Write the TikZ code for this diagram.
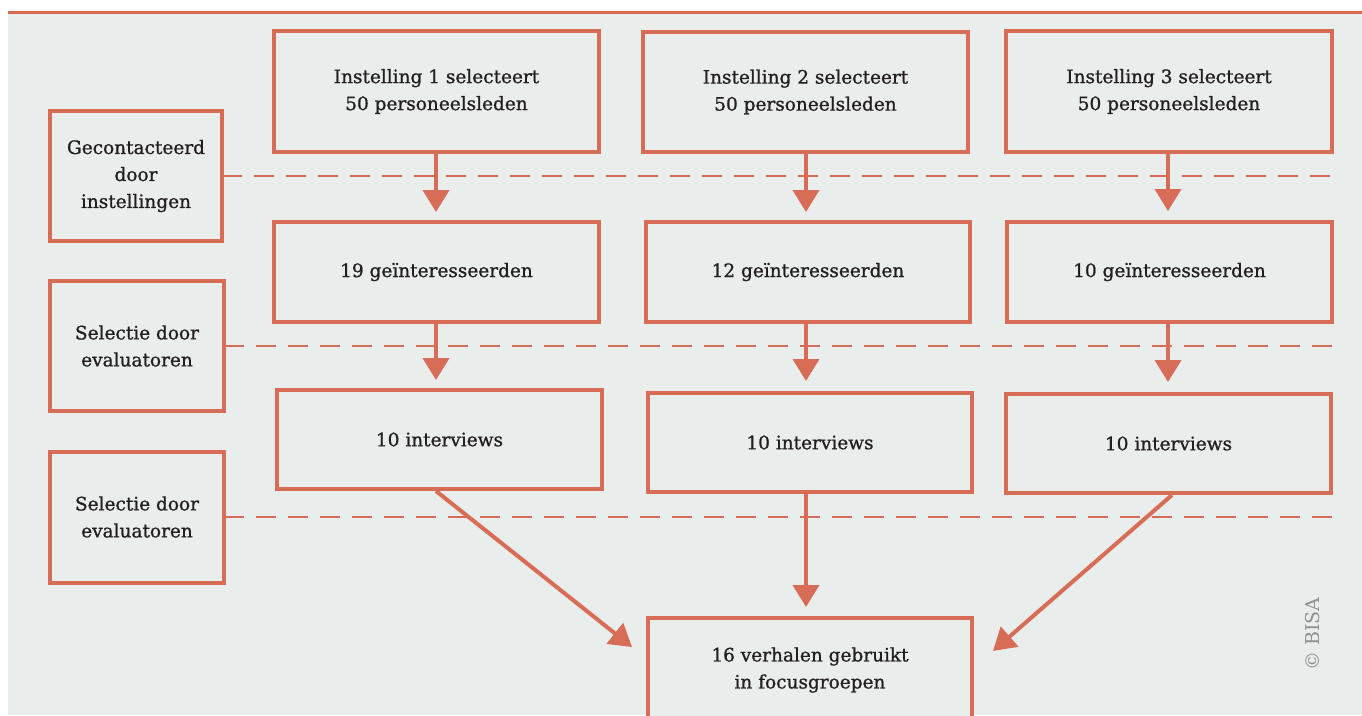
\documentclass[tikz,border=0pt]{standalone}
\usepackage{fontspec}
\setmainfont{DejaVu Serif}[BoldFont={DejaVu Serif},BoldFeatures={FakeBold=1.0}]
\usetikzlibrary{arrows.meta}
\definecolor{org}{HTML}{D86D57}
\definecolor{bg}{HTML}{E9EDEB}
\definecolor{txt}{HTML}{231F20}
\definecolor{cpy}{HTML}{8C9191}
\tikzset{
  box/.style={draw=org, line width=4pt, fill=bg, text=txt, align=center, inner sep=0pt,
    font=\fontsize{18.5}{27}\selectfont\bfseries},
  flow/.style={draw=org, line width=4pt, -{Triangle[length=22pt,width=26pt]}},
  sep/.style={draw=org, line width=1.6pt, dash pattern=on 20pt off 12pt},
}
\begin{document}
\begin{tikzpicture}[x=1pt,y=-1pt]
\useasboundingbox (0,0) rectangle (1362,715);
\clip (0,0) rectangle (1362,715);
\fill[white] (0,0) rectangle (1362,715);
\fill[bg] (8,12) rectangle (1362,715);
\draw[org, line width=3pt] (8,12) -- (1362,12);

% dashed separators
\coordinate (s1a) at (222,176); \coordinate (s1b) at (1335,176);
\coordinate (s2a) at (224,346); \coordinate (s2b) at (1335,346);
\coordinate (s3a) at (224,517); \coordinate (s3b) at (1335,517);
\draw[sep] (s1a) -- (s1b);
\draw[sep] (s2a) -- (s2b);
\draw[sep] (s3a) -- (s3b);

% left labels
\node[box, minimum width=172pt, minimum height=130pt] (L1) at (136,176) {Gecontacteerd\\door\\instellingen};
\node[box, minimum width=174pt, minimum height=130pt] (L2) at (137,346) {Selectie door\\evaluatoren};
\node[box, minimum width=174pt, minimum height=131pt] (L3) at (137,517) {Selectie door\\evaluatoren};

% column boxes
\node[box, minimum width=325pt, minimum height=121pt] (A1) at (436.5,91.5) {Instelling 1 selecteert\\50 personeelsleden};
\node[box, minimum width=325pt, minimum height=120pt] (A2) at (805.5,92) {Instelling 2 selecteert\\50 personeelsleden};
\node[box, minimum width=326pt, minimum height=121pt] (A3) at (1169,91.5) {Instelling 3 selecteert\\50 personeelsleden};

\node[box, minimum width=325pt, minimum height=100pt] (B1) at (436.5,272) {19 geïnteresseerden};
\node[box, minimum width=324pt, minimum height=100pt] (B2) at (808,272) {12 geïnteresseerden};
\node[box, minimum width=325pt, minimum height=100pt] (B3) at (1169.5,272) {10 geïnteresseerden};

\node[box, minimum width=325pt, minimum height=99pt] (C1) at (439.5,439.5) {10 interviews};
\node[box, minimum width=324pt, minimum height=99pt] (C2) at (810,442.5) {10 interviews};
\node[box, minimum width=325pt, minimum height=99pt] (C3) at (1168.5,443.5) {10 interviews};

\node[box, minimum width=324pt, minimum height=104pt] (D) at (810,670) {16 verhalen gebruikt\\in focusgroepen};

% arrows
\draw[flow] (A1.south -| 436,0) -- (436,212);
\draw[flow] (A2.south -| 806,0) -- (806,212);
\draw[flow] (A3.south -| 1168,0) -- (1168,211);
\draw[flow] (B1.south -| 436,0) -- (436,380);
\draw[flow] (B2.south -| 806,0) -- (806,381);
\draw[flow] (B3.south -| 1168,0) -- (1168,382);
\coordinate (t1) at (632,647);
\coordinate (t2) at (806,607);
\coordinate (t3) at (993,651);
\draw[flow] (C1.south -| 436,0) -- (t1);
\draw[flow] (C2.south -| 806,0) -- (t2);
\draw[flow] (C3.south -| 1172,0) -- (t3);

\node[text=cpy, rotate=90, font=\fontsize{19}{19}\selectfont] (cp) at (1313,634) {© BISA};
\end{tikzpicture}
\end{document}
